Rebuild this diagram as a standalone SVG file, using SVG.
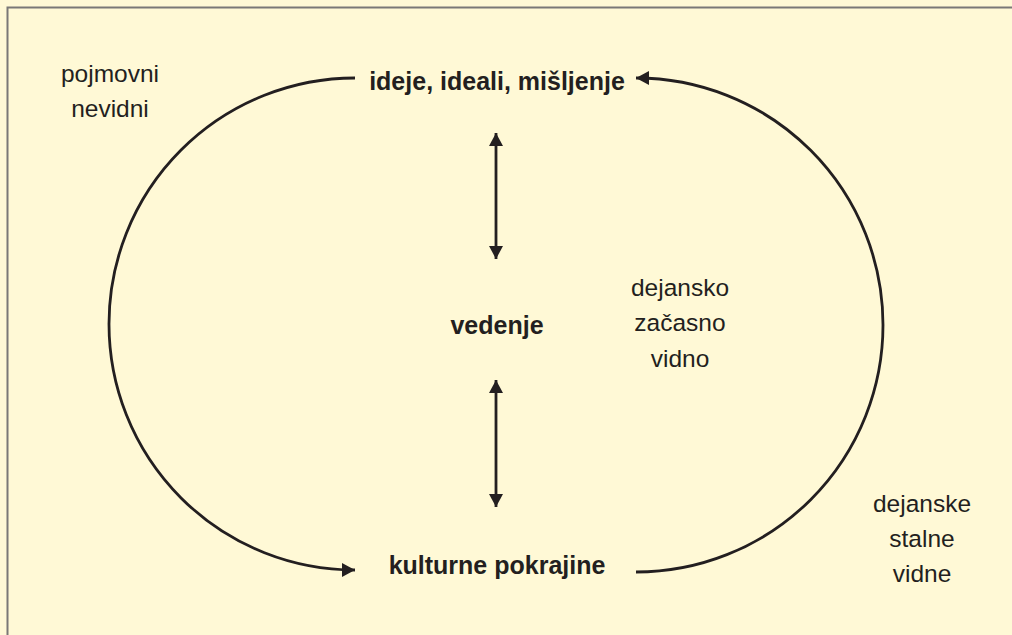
<svg xmlns="http://www.w3.org/2000/svg" width="1012" height="635" viewBox="0 0 1012 635">
<style>
.t{font-family:"Liberation Sans",Arial,sans-serif;fill:#231f20;text-anchor:middle}
.b{font-weight:bold;font-size:25px}
.r{font-size:24.5px}
.c{fill:none;stroke:#231f20;stroke-width:2.8}
</style>
<defs>
<marker id="ah" markerUnits="userSpaceOnUse" markerWidth="16" markerHeight="16" refX="13" refY="7" orient="auto-start-reverse" overflow="visible">
<path d="M0,0 L13,7 L0,14 z" fill="#231f20"/>
</marker>
</defs>
<rect x="0" y="0" width="1012" height="635" fill="#fff9d6"/>
<path d="M7.5,635 V7.5 H1012" fill="none" stroke="#7a7877" stroke-width="2"/>
<g id="connectors">
<path class="c" d="M355,78 A246,246 0 0 0 355,570" marker-end="url(#ah)"/>
<path class="c" d="M636,572 A247,247 0 0 0 636,78" marker-end="url(#ah)"/>
<line class="c" x1="496" y1="133" x2="496" y2="259" marker-start="url(#ah)" marker-end="url(#ah)"/>
<line class="c" x1="496" y1="380" x2="496" y2="507" marker-start="url(#ah)" marker-end="url(#ah)"/>
</g>
<g id="ideje"><text class="t b" x="497" y="90">ideje, ideali, mišljenje</text></g>
<g id="vedenje"><text class="t b" x="497" y="334">vedenje</text></g>
<g id="kulturne"><text class="t b" x="497" y="574">kulturne pokrajine</text></g>
<g id="pojmovni"><text class="t r" x="110" y="82">pojmovni</text><text class="t r" x="110" y="117">nevidni</text></g>
<g id="dejansko"><text class="t r" x="680" y="296">dejansko</text><text class="t r" x="680" y="331">začasno</text><text class="t r" x="680" y="367">vidno</text></g>
<g id="dejanske"><text class="t r" x="922" y="512">dejanske</text><text class="t r" x="922" y="547">stalne</text><text class="t r" x="922" y="582">vidne</text></g>
</svg>
